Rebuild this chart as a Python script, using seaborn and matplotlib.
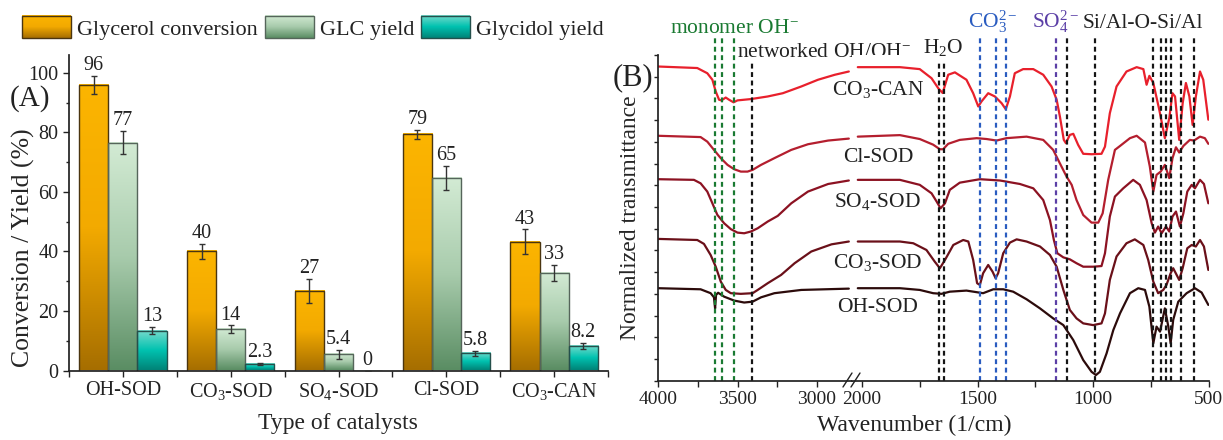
import numpy as np
import pandas as pd
import matplotlib
matplotlib.use("Agg")
import matplotlib.pyplot as plt
import seaborn as sns
from matplotlib.colors import to_rgb
from matplotlib.patches import Patch, Rectangle
from matplotlib.legend_handler import HandlerBase
from matplotlib.image import BboxImage
from matplotlib.transforms import Bbox, TransformedBbox
from matplotlib.lines import Line2D

W, H = 1223, 440

# ---- panel A data ----
catalysts = ["OH-SOD", "CO$_3$-SOD", "SO$_4$-SOD", "Cl-SOD", "CO$_3$-CAN"]
series = ["Glycerol conversion", "GLC yield", "Glycidol yield"]
conversion = [95.9, 40.1, 26.7, 79.3, 43.2]
conversion_err = [3.1, 2.5, 4.1, 1.5, 4.2]
glc_yield = [76.6, 13.9, 5.4, 64.8, 32.9]
glc_err = [4.0, 1.3, 1.6, 4.0, 2.7]
glycidol_yield = [13.4, 2.3, 0.0, 5.8, 8.2]
glycidol_err = [1.2, 0.3, 0.0, 0.9, 1.1]

grad_colors = [["#fcb500", "#f3aa00", "#a66e00"],
               ["#d3ebd4", "#a8cbac", "#5a8d63"],
               ["#78dbcc", "#00c2b0", "#008377"]]
edge_colors = ["#4a3510", "#55655a", "#24504c"]

# ---- panel B data (wavenumber in 1/cm, normalized transmittance) ----
can_wn = [4000, 3753, 3690, 3658, 3637, 3616, 3601, 3574, 3553, 3525, 3500, 3416, 3310, 3215, 3099, 2994, 2888, 2800,
          2018, 1836, 1750, 1699, 1670, 1651, 1627, 1598, 1548, 1519, 1497, 1483, 1454, 1425, 1396, 1378, 1360, 1339,
          1303, 1259, 1216, 1180, 1158, 1144, 1127, 1118, 1101, 1086, 1065, 1043, 1007, 964, 949, 928, 899, 856, 812,
          783, 769, 757, 740, 714, 690, 671, 657, 646, 628, 613, 599, 584, 570, 556, 538, 524, 502]
can_t = [1.447, 1.440, 1.416, 1.386, 1.332, 1.294, 1.291, 1.304, 1.294, 1.282, 1.291, 1.297, 1.309, 1.324, 1.355, 1.386,
         1.409, 1.424, 1.444, 1.444, 1.435, 1.393, 1.347, 1.325, 1.409, 1.420, 1.386, 1.324, 1.263, 1.286, 1.324, 1.309,
         1.278, 1.250, 1.309, 1.416, 1.435, 1.435, 1.409, 1.355, 1.294, 1.217, 1.109, 1.094, 1.132, 1.137, 1.086, 1.045,
         1.043, 1.045, 1.078, 1.232, 1.355, 1.424, 1.444, 1.435, 1.363, 1.404, 1.371, 1.247, 1.117, 1.209, 1.324, 1.309,
         1.109, 1.278, 1.371, 1.309, 1.178, 1.309, 1.424, 1.386, 1.202]

cl_wn = [4000, 3732, 3690, 3648, 3605, 3563, 3521, 3479, 3437, 3405, 3352, 3268, 3162, 3057, 2930, 2800,
         2018, 1836, 1750, 1692, 1663, 1649, 1627, 1577, 1504, 1461, 1418, 1375, 1288, 1216, 1173, 1144, 1115, 1093,
         1072, 1043, 1007, 978, 959, 935, 906, 884, 841, 812, 776, 755, 740, 726, 708, 690, 671, 657, 642, 628, 610,
         582, 564, 538, 517, 502]
cl_t = [1.128, 1.122, 1.101, 1.063, 1.025, 0.994, 0.974, 0.963, 0.963, 0.971, 0.994, 1.025, 1.063, 1.089, 1.106, 1.115,
        1.124, 1.131, 1.113, 1.087, 1.066, 1.066, 1.091, 1.109, 1.117, 1.113, 1.106, 1.117, 1.124, 1.109, 1.063, 1.001,
        0.940, 0.902, 0.832, 0.763, 0.728, 0.728, 0.771, 0.925, 1.063, 1.081, 1.117, 1.128, 1.097, 0.986, 0.871, 0.948,
        0.963, 0.994, 0.933, 1.025, 1.075, 1.051, 1.081, 1.109, 1.106, 1.124, 1.117, 1.091]

so4_wn = [4000, 3774, 3732, 3690, 3658, 3627, 3584, 3542, 3500, 3458, 3416, 3373, 3310, 3247, 3162, 3057, 2930, 2800,
          2018, 1836, 1750, 1699, 1677, 1660, 1641, 1620, 1577, 1490, 1403, 1317, 1259, 1216, 1187, 1170, 1155, 1129,
          1101, 1072, 1043, 1000, 964, 949, 928, 906, 870, 827, 798, 769, 747, 733, 719, 704, 685, 671, 657, 642, 625,
          610, 593, 574, 560, 538, 521, 502]
so4_t = [0.928, 0.925, 0.909, 0.871, 0.817, 0.764, 0.725, 0.698, 0.682, 0.679, 0.687, 0.702, 0.733, 0.759, 0.817, 0.871,
         0.906, 0.922, 0.925, 0.925, 0.902, 0.863, 0.825, 0.794, 0.817, 0.879, 0.912, 0.928, 0.922, 0.906, 0.886, 0.832,
         0.740, 0.648, 0.587, 0.568, 0.559, 0.541, 0.525, 0.525, 0.528, 0.587, 0.756, 0.848, 0.886, 0.925, 0.902, 0.832,
         0.725, 0.682, 0.710, 0.679, 0.710, 0.687, 0.756, 0.779, 0.710, 0.771, 0.871, 0.902, 0.886, 0.925, 0.906, 0.817]

co3_wn = [4000, 3753, 3711, 3669, 3637, 3605, 3574, 3542, 3479, 3405, 3373, 3310, 3226, 3141, 3036, 2909, 2800,
          2018, 1836, 1778, 1721, 1685, 1663, 1641, 1605, 1562, 1540, 1519, 1502, 1490, 1476, 1454, 1435, 1422, 1411,
          1389, 1360, 1331, 1288, 1230, 1187, 1158, 1129, 1101, 1072, 1043, 1000, 964, 949, 928, 899, 856, 820, 783,
          762, 740, 719, 697, 683, 665, 654, 639, 628, 613, 593, 574, 556, 538, 521, 502]
co3_t = [0.653, 0.648, 0.630, 0.579, 0.525, 0.456, 0.418, 0.403, 0.400, 0.403, 0.418, 0.449, 0.487, 0.541, 0.595, 0.628,
         0.641, 0.641, 0.641, 0.633, 0.602, 0.548, 0.518, 0.556, 0.625, 0.648, 0.641, 0.556, 0.449, 0.441, 0.495, 0.533,
         0.502, 0.472, 0.495, 0.587, 0.636, 0.651, 0.641, 0.618, 0.579, 0.525, 0.418, 0.326, 0.287, 0.264, 0.256, 0.264,
         0.310, 0.464, 0.572, 0.633, 0.651, 0.625, 0.556, 0.456, 0.403, 0.418, 0.441, 0.495, 0.518, 0.487, 0.464, 0.518,
         0.610, 0.625, 0.618, 0.648, 0.618, 0.510]

oh_wn = [4000, 3732, 3669, 3648, 3641, 3635, 3622, 3584, 3521, 3458, 3405, 3352, 3268, 3099, 2800,
         2018, 1836, 1750, 1692, 1656, 1620, 1548, 1476, 1432, 1389, 1346, 1288, 1230, 1173, 1129, 1086, 1043, 1007,
         988, 971, 942, 913, 884, 841, 805, 776, 757, 740, 726, 711, 690, 675, 665, 654, 632, 596, 560, 531, 502]
oh_t = [0.426, 0.421, 0.403, 0.384, 0.333, 0.395, 0.405, 0.387, 0.369, 0.360, 0.364, 0.384, 0.403, 0.418, 0.424,
        0.426, 0.426, 0.418, 0.403, 0.400, 0.410, 0.415, 0.403, 0.421, 0.421, 0.410, 0.375, 0.333, 0.287, 0.256, 0.187,
        0.095, 0.041, 0.026, 0.041, 0.126, 0.233, 0.310, 0.403, 0.426, 0.418, 0.341, 0.172, 0.249, 0.226, 0.333, 0.249,
        0.172, 0.280, 0.364, 0.403, 0.426, 0.406, 0.349]

spec_names = ["CO$_3$-CAN", "Cl-SOD", "SO$_4$-SOD", "CO$_3$-SOD", "OH-SOD"]
spec_colors = ["#e8202c", "#b41e2e", "#8c1222", "#6a1019", "#2c0b0b"]

monomer_oh = [3644, 3597, 3525]
networked_oh = [3409]
water = [1666, 1644]
carbonate = [1490, 1422, 1378]
sulfate = [1161]
framework = [1115, 993, 740, 708, 683, 663, 622, 564]


def gradient(stops, n=256):
    cols = np.array([to_rgb(c) for c in stops])
    pos = np.linspace(0, 1, len(stops))
    t = np.linspace(0, 1, n)
    arr = np.stack([np.interp(t, pos, cols[:, k]) for k in range(3)], axis=-1)
    return arr[:, None, :]


class GradientHandler(HandlerBase):
    def __init__(self, stops, edge):
        super().__init__()
        self.stops = stops
        self.edge = edge

    def create_artists(self, legend, orig_handle, xdescent, ydescent, width, height, fontsize, trans):
        box = TransformedBbox(Bbox.from_bounds(-xdescent, -ydescent, width, height), trans)
        img = BboxImage(box, interpolation="bilinear")
        img.set_data(gradient(self.stops))
        frame = Rectangle((-xdescent, -ydescent), width, height, facecolor="none",
                          edgecolor=self.edge, lw=1.0, transform=trans)
        return [img, frame]


sns.set_theme(style="ticks")
plt.rcParams["font.family"] = ["Liberation Serif", "DejaVu Serif"]
plt.rcParams["mathtext.fontset"] = "custom"
plt.rcParams["mathtext.rm"] = "Liberation Serif"
plt.rcParams["mathtext.it"] = "Liberation Serif:italic"
plt.rcParams["mathtext.bf"] = "Liberation Serif:bold"
plt.rcParams["axes.edgecolor"] = "#222222"
plt.rcParams["xtick.color"] = "#222222"
plt.rcParams["ytick.color"] = "#222222"
plt.rcParams["text.color"] = "#222222"

fig = plt.figure(figsize=(W / 100, H / 100), dpi=100)

# ================= panel A =================
ax_a = fig.add_axes([69 / W, 1 - 370.5 / H, 539 / W, 315.5 / H])
df = pd.DataFrame({
    "catalyst": catalysts * 3,
    "series": np.repeat(series, len(catalysts)),
    "value": conversion + glc_yield + glycidol_yield,
})
sns.barplot(data=df, x="catalyst", y="value", hue="series", order=catalysts, hue_order=series,
            palette=[g[1] for g in grad_colors], width=0.81, errorbar=None,
            edgecolor="#333333", linewidth=1.0, legend=False, ax=ax_a)

errs = [conversion_err, glc_err, glycidol_err]
vals = [conversion, glc_yield, glycidol_yield]
bar_groups = list(ax_a.containers)
for k, cont in enumerate(bar_groups):
    xs = []
    for bar in cont:
        x0, w, h = bar.get_x(), bar.get_width(), bar.get_height()
        xs.append(x0 + w / 2)
        bar.set_facecolor("none")
        bar.set_edgecolor(edge_colors[k])
        bar.set_zorder(2)
        if h > 0:
            ax_a.imshow(gradient(grad_colors[k]), extent=[x0, x0 + w, 0, h], aspect="auto",
                        interpolation="bilinear", zorder=1.5)
    ax_a.errorbar(xs, vals[k], yerr=errs[k], fmt="none", ecolor="#333333", elinewidth=1.0,
                  capsize=2.5, capthick=1.0, zorder=3)
    for x, v, e in zip(xs, vals[k], errs[k]):
        txt = "0" if v == 0 else (f"{v:.0f}" if v >= 10 else f"{v:.1f}")
        ax_a.annotate(txt, (x, v + e), xytext=(0, 0.5), textcoords="offset points",
                      ha="center", va="bottom", fontsize=14.5)

ax_a.set_xlim(-0.5, 4.5)
ax_a.set_ylim(0, 106)
ax_a.set_aspect("auto")
ax_a.set_yticks(np.arange(0, 101, 20))
ax_a.set_yticks(np.arange(0, 101, 10), minor=True)
ax_a.set_xticks(np.arange(-0.5, 4.6, 1), minor=True)
ax_a.tick_params(axis="both", which="major", direction="out", length=4, width=1, labelsize=14.5)
ax_a.tick_params(axis="y", which="minor", direction="out", length=2.5, width=1)
ax_a.tick_params(axis="x", which="minor", direction="out", length=4, width=1)
ax_a.set_xlabel("Type of catalysts", fontsize=17)
ax_a.set_ylabel("Conversion / Yield (%)", fontsize=18.5)
ax_a.yaxis.set_label_coords(-0.063, 0.39)
ax_a.xaxis.set_label_coords(0.499, -0.135)
sns.despine(ax=ax_a)

handles = [Patch() for _ in series]
hmap = {h: GradientHandler(grad_colors[i], edge_colors[i]) for i, h in enumerate(handles)}
fig.legend(handles, series, handler_map=hmap, loc="center left", bbox_to_anchor=(22 / W, 1 - 28 / H),
           ncol=3, frameon=False, fontsize=16, handlelength=2.2, handleheight=1.17,
           handletextpad=0.27, columnspacing=0.32, borderpad=0, borderaxespad=0)

fig.text(10 / W, 1 - 99 / H, "(A)", fontsize=21, va="center", ha="left")

# ================= panel B (broken x axis) =================
b_bottom = 1 - 380.7 / H
b_height = 325.7 / H
ax_b1 = fig.add_axes([658 / W, b_bottom, (852 - 658) / W, b_height])
ax_b2 = fig.add_axes([852 / W, b_bottom, (1208.8 - 852) / W, b_height])

spectra = [(can_wn, can_t), (cl_wn, cl_t), (so4_wn, so4_t), (co3_wn, co3_t), (oh_wn, oh_t)]
for (wn, t), col in zip(spectra, spec_colors):
    d = pd.DataFrame({"wn": wn, "t": t})
    sns.lineplot(data=d[d.wn > 2400], x="wn", y="t", ax=ax_b1, color=col, lw=1.6,
                 sort=False, estimator=None)
    sns.lineplot(data=d[d.wn < 2400], x="wn", y="t", ax=ax_b2, color=col, lw=1.6,
                 sort=False, estimator=None)

dash = (0, (2.2, 1.6))
ax_b1.vlines(monomer_oh, 0, 1.584, colors="#1a7a32", linestyles=dash, lw=1.6, clip_on=False)
ax_b1.vlines(networked_oh, 0, 1.464, colors="#151515", linestyles=dash, lw=1.6, clip_on=False)
ax_b2.vlines(water, 0, 1.469, colors="#151515", linestyles=dash, lw=1.6, clip_on=False)
ax_b2.vlines(carbonate, 0, 1.593, colors="#2a5cc0", linestyles=dash, lw=1.6, clip_on=False)
ax_b2.vlines(sulfate, 0, 1.593, colors="#5b3fa6", linestyles=dash, lw=1.6, clip_on=False)
ax_b2.vlines(framework, 0, 1.593, colors="#151515", linestyles=dash, lw=1.6, clip_on=False)

ax_b1.text(3520, 1.602, "monomer OH$^{-}$", color="#1a7a32", fontsize=15.5, ha="center", va="baseline")
ax_b1.text(3501, 1.492, "networked OH/OH$^{-}$", fontsize=15.5, ha="left", va="baseline")
ax_b2.text(1737, 1.510, "H$_2$O", fontsize=15.5, ha="left", va="baseline")
ax_b2.text(1542, 1.625, "CO$_3^{2-}$", color="#2a5cc0", fontsize=15.5, ha="left", va="baseline")
ax_b2.text(1265, 1.625, "SO$_4^{2-}$", color="#5b3fa6", fontsize=15.5, ha="left", va="baseline")
ax_b2.text(1045, 1.625, "Si/Al-O-Si/Al", fontsize=15.5, ha="left", va="baseline")

label_y = [1.317, 1.009, 0.802, 0.518, 0.318]
for name, y in zip(spec_names, label_y):
    ax_b2.text(1931, y, name, fontsize=15.5, ha="center", va="baseline")

for ax in (ax_b1, ax_b2):
    ax.set_ylim(0, 1.5)
    ax.set_xlabel("")
    ax.set_ylabel("")
    ax.spines["top"].set_visible(False)
    ax.spines["right"].set_visible(False)
    ax.tick_params(axis="x", which="both", direction="out", length=4, width=1, labelsize=14)

ax_b1.set_xlim(4000, 2780)
ax_b1.set_xticks([4000, 3500, 3000])
ax_b1.set_xticks([3750, 3250], minor=True)
ax_b1.set_yticks(np.arange(0, 1.51, 0.1))
ax_b1.set_yticklabels([])
ax_b1.tick_params(axis="y", direction="out", length=3, width=1)
ax_b1.set_ylabel("Normalized transmittance", fontsize=17, labelpad=6)

ax_b2.set_xlim(2043, 500)
ax_b2.set_xticks([2000, 1500, 1000, 500])
ax_b2.set_xticks([1750, 1250, 750], minor=True)
ax_b2.spines["left"].set_visible(False)
ax_b2.set_yticks([])

# break marks on the x axis
for x0 in (843, 851):
    fig.add_artist(Line2D([x0 / W, (x0 + 9) / W], [1 - 387 / H, 1 - 373 / H],
                          color="#222222", lw=1.0, transform=fig.transFigure))

fig.text(914 / W, 1 - 425 / H, "Wavenumber (1/cm)", fontsize=17, ha="center", va="center")
fig.text(613 / W, 1 - 78 / H, "(B)", fontsize=22, va="center", ha="left")

fig.savefig("out.png", dpi=100)
